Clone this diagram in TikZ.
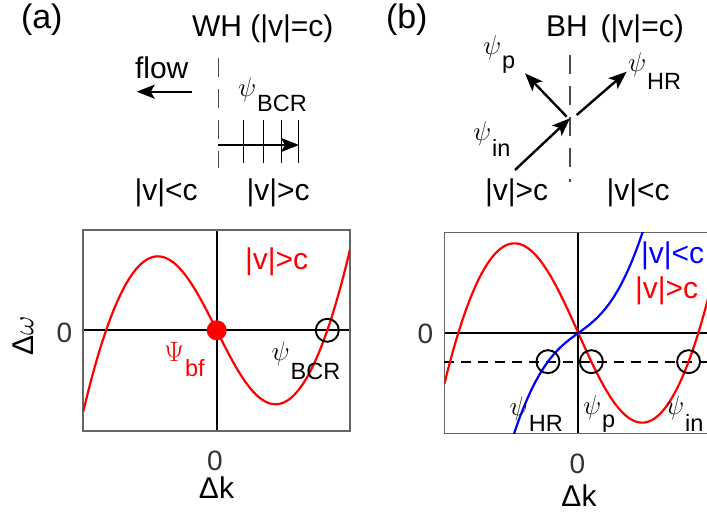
\documentclass[tikz,border=0pt]{standalone}
\usepackage{fix-cm}
\usepackage[no-math]{fontspec}
\setmainfont{Liberation Sans}
\usetikzlibrary{arrows.meta}
\definecolor{tickgray}{HTML}{333333}
\newcommand{\wsub}[3]{{\fontsize{27}{27}\selectfont$#1$}\kern1pt\raisebox{-#3pt}{\fontsize{23.5}{23.5}\selectfont #2}}
\begin{document}
\begin{tikzpicture}[x=1pt,y=-1pt,
  txt/.style={inner sep=0pt, outer sep=0pt, anchor=base west, font=\fontsize{30}{30}\selectfont},
  panel/.style={inner sep=0pt, outer sep=0pt, anchor=base west, font=\fontsize{34}{34}\selectfont},
  tick/.style={inner sep=0pt, text=tickgray, font=\fontsize{28}{28}\selectfont},
  axlab/.style={inner sep=0pt, font=\fontsize{30}{30}\selectfont},
  wavearrow/.style={line width=2.4pt, -{Stealth[length=18pt,width=14pt,inset=4pt]}},
  boundary/.style={line width=1.2pt, black!70, dash pattern=on 19pt off 12pt},
  wavefront/.style={line width=1.2pt, black},
  frame/.style={line width=1.3pt, black!60},
  axisline/.style={line width=1.9pt, black},
  curve/.style={line width=2.2pt},
  marker/.style={draw=black, line width=1.9pt, circle, minimum size=23pt, inner sep=0pt},
]
\useasboundingbox (0,0) rectangle (707,514);
\clip (0,0) rectangle (707,514);

% ---------------- panel (a), top ----------------
\node[panel] (la) at (21,28) {(a)};
\node[txt] (wh) at (192,36.7) {WH (|v|=c)};
\node[txt] (flow) at (135,78.3) {flow};
\node[txt] (alt) at (134.5,200) {|v|<c};
\node[txt] (agt) at (246.5,200) {|v|>c};
\node[inner sep=0pt, outer sep=0pt, anchor=base west] (abcr) at (238,96) {\wsub{\psi}{BCR}{15}};
\coordinate (whT) at (218.3,58.3);
\coordinate (whB) at (218.3,168.3);
\draw[boundary] (whT) -- (whB);
\coordinate (flowS) at (191.7,91.7);
\coordinate (flowE) at (136.7,91.7);
\draw[wavearrow] (flowS) -- (flowE);
\foreach \xx in {243.3,263.3,281.7,298.3}
  \draw[wavefront] (\xx,120) -- (\xx,163.3);
\coordinate (bcrS) at (218.3,145);
\coordinate (bcrE) at (299,145);
\draw[wavearrow] (bcrS) -- (bcrE);

% ---------------- panel (b), top ----------------
\node[panel] (lb) at (386,28) {(b)};
\node[txt] (bh) at (546,36.7) {BH\hspace{13pt}(|v|=c)};
\node[txt] (bgt) at (485,200) {|v|>c};
\node[txt] (blt) at (606.5,200) {|v|<c};
\node[inner sep=0pt, outer sep=0pt, anchor=base west] (bp) at (483,54) {\wsub{\psi}{p}{14}};
\node[inner sep=0pt, outer sep=0pt, anchor=base west] (bhr) at (628,71) {\wsub{\psi}{HR}{18}};
\node[inner sep=0pt, outer sep=0pt, anchor=base west] (bin) at (473,140) {\wsub{\psi}{in}{16}};
\coordinate (bhT) at (570,55);
\coordinate (bhB) at (570,181.7);
\draw[boundary] (bhT) -- (bhB);
\coordinate (inS) at (515,170);
\coordinate (inE) at (570,118.3);
\coordinate (pS) at (566.7,116.7);
\coordinate (pE) at (525,73.3);
\coordinate (hrS) at (576.7,115);
\coordinate (hrE) at (626.7,71.7);
\draw[wavearrow] (inS) -- (inE);
\draw[wavearrow] (pS) -- (pE);
\draw[wavearrow] (hrS) -- (hrE);

% ---------------- panel (a), dispersion ----------------
\draw[axisline] (83,330.3) -- (350,330.3);
\draw[axisline] (216.7,230) -- (216.7,431);
\draw[frame] (83,230) rectangle (350,431);
\begin{scope}
\clip (83,230) rectangle (350,431);
\begin{scope}[shift={(216.7pt,-330.3pt)}, x=55.3pt, y=89.6pt]
\draw[curve, red, domain=-2.414:2.414, samples=140, smooth] plot (\x, {\x*(sqrt(1+\x*\x)-sqrt(5))});
\fill[red] (0,0) circle[radius=10pt];
\node[marker] (mbcr) at (2,0) {};
\end{scope}
\end{scope}
\node[txt, text=red] (pvgt) at (245,269.3) {|v|>c};
\node[inner sep=0pt, outer sep=0pt, anchor=base west, text=red] (psibf) at (164,361.7) {{\fontsize{28}{28}\selectfont$\Psi$}\kern1pt\raisebox{-15pt}{\fontsize{23.5}{23.5}\selectfont bf}};
\node[inner sep=0pt, outer sep=0pt, anchor=base west] (pbcr) at (271.5,360) {\wsub{\psi}{BCR}{19}};
\node[tick] (ay0) at (64.5,333) {0};
\node[tick] (ax0) at (215,460.5) {0};
\node[axlab] (adk) at (216.5,488) {Δk};
\node[axlab, rotate=90] (adw) at (23,336) {Δ$\omega$};

% ---------------- panel (b), dispersion ----------------
\draw[axisline] (444.3,333) -- (707,333);
\draw[axisline] (578.3,232.7) -- (578.3,433.3);
\draw[frame] (707,232.7) -- (444.3,232.7) -- (444.3,433.3) -- (707,433.3);
\draw[line width=1.9pt, black, dash pattern=on 10pt off 7pt] (444.3,361.7) -- (707,361.7);
\begin{scope}
\clip (444.3,232.7) rectangle (707,433.3);
\begin{scope}[shift={(578.3pt,-333pt)}, x=60pt, y=108.6pt]
\draw[curve, red, domain=-2.233:2.3, samples=140, smooth] plot (\x, {\x*(sqrt(1+\x*\x)-sqrt(5))});
\draw[curve, blue, domain=-1.09:1.09, samples=80, smooth] plot (\x, {\x*(sqrt(1+\x*\x)-0.6)});
\node[marker] (mhr) at (-0.506,-0.264) {};
\node[marker] (mp) at (0.218,-0.264) {};
\node[marker] (min) at (1.838,-0.264) {};
\end{scope}
\end{scope}
\node[txt, text=blue] (qvlt) at (641,263) {|v|<c};
\node[txt, text=red] (qvgt) at (635,298.3) {|v|>c};
\node[inner sep=0pt, outer sep=0pt, anchor=base west] (qhr) at (509.7,415) {\wsub{\psi}{HR}{16.7}};
\node[inner sep=0pt, outer sep=0pt, anchor=base west] (qp) at (583,414) {\wsub{\psi}{p}{13}};
\node[inner sep=0pt, outer sep=0pt, anchor=base west] (qin) at (666,414) {\wsub{\psi}{in}{17}};
\node[tick] (by0) at (425.5,334) {0};
\node[tick] (bx0) at (577.5,463.5) {0};
\node[axlab] (bdk) at (579,496) {Δk};
\end{tikzpicture}
\end{document}
